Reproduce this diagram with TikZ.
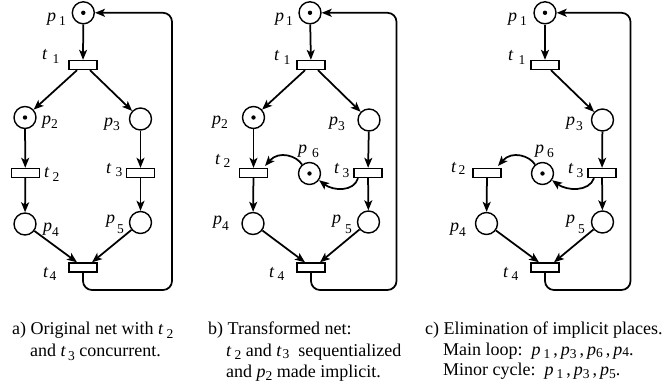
\documentclass[tikz,border=0pt]{standalone}
\usepackage{fontspec}
\setmainfont{Liberation Serif}
\usetikzlibrary{arrows.meta,calc}
\newcommand\lb[4]{\textit{#1}\kern#2\raisebox{-#3}{\fontsize{13.5}{14}\selectfont #4}}
\begin{document}
\begin{tikzpicture}[x=1pt,y=-1pt,
 place/.style={circle,draw,line width=1.4pt,minimum size=22pt,inner sep=0},
 trans/.style={rectangle,draw,line width=1.4pt,minimum width=28pt,minimum height=9pt,inner sep=0},
 arc/.style={-{Stealth[length=10pt,width=8pt,inset=2.5pt]},line width=1.75pt},
 back/.style={arc,rounded corners=9pt},
 txt/.style={inner sep=0,anchor=base west,font=\fontsize{18}{20}\selectfont}]
\useasboundingbox (0,0) rectangle (672,391);

% ---------------- panel a
\node[place] (a-p1) at (83.3,12.8) {};
\node[trans] (a-t1) at (83,65) {};
\node[place] (a-p2) at (25,117.5) {};
\node[place] (a-p3) at (140.5,119) {};
\node[trans] (a-t2) at (25.3,173) {};
\node[trans] (a-t3) at (140.5,173) {};
\node[place] (a-p4) at (25,224) {};
\node[place] (a-p5) at (140.5,222.5) {};
\node[trans] (a-t4) at (83,267.5) {};
\coordinate (a-c) at (172,290);
\fill (a-p1.center) circle (2.2pt);
\fill (a-p2.center) circle (2.2pt);
\draw[arc] (a-p1) -- (a-t1);
\draw[arc] ($(a-t1.south)+(-6,0)$) -- (a-p2);
\draw[arc] ($(a-t1.south)+(7,0)$) -- (a-p3);
\draw[arc] (a-p2) -- (a-t2);
\draw[arc] (a-p3) -- (a-t3);
\draw[arc] (a-t2) -- (a-p4);
\draw[arc] (a-t3) -- (a-p5);
\draw[arc] (a-p4) -- ($(a-t4.north)+(-6,0)$);
\draw[arc] (a-p5) -- ($(a-t4.north)+(9,0)$);
\draw[back] (a-t4.south) |- (a-c) |- (a-p1.east);
\node[txt] at (47,21) {\lb{p}{3pt}{4pt}{1}};
\node[txt] at (42,59) {\lb{t}{5pt}{4pt}{1}};
\node[txt] at (42,124) {\lb{p}{0pt}{4pt}{2}};
\node[txt] at (104,126) {\lb{p}{0pt}{4pt}{3}};
\node[txt] at (44,177) {\lb{t}{3pt}{4pt}{2}};
\node[txt] at (106,173) {\lb{t}{4pt}{3pt}{3}};
\node[txt] at (43,231) {\lb{p}{0pt}{5pt}{4}};
\node[txt] at (106,223) {\lb{p}{2pt}{10pt}{5}};
\node[txt] at (43,277) {\lb{t}{1pt}{3pt}{4}};

% ---------------- panel b
\node[place] (b-p1) at (310,12.8) {};
\node[trans] (b-t1) at (311,65) {};
\node[place] (b-p2) at (253.5,117.5) {};
\node[place] (b-p3) at (369,120) {};
\node[trans] (b-t2) at (253.5,173) {};
\node[place] (b-p6) at (309.5,173.5) {};
\node[trans] (b-t3) at (368,173) {};
\node[place] (b-p4) at (253,223.5) {};
\node[place] (b-p5) at (368.5,222) {};
\node[trans] (b-t4) at (311,267.5) {};
\coordinate (b-c) at (396.5,290);
\coordinate (b-e2) at (265,166);
\fill (b-p1.center) circle (2.2pt);
\fill (b-p2.center) circle (2.2pt);
\fill (b-p6.center) circle (2.2pt);
\draw[arc] (b-p1) -- (b-t1);
\draw[arc] ($(b-t1.south)+(-6,0)$) -- (b-p2);
\draw[arc] ($(b-t1.south)+(7,0)$) -- (b-p3);
\draw[arc] (b-p2) -- (b-t2);
\draw[arc] (b-p3) -- (b-t3);
\draw[arc] (b-t2) -- (b-p4);
\draw[arc] (b-t3) -- (b-p5);
\draw[arc] (b-p4) -- ($(b-t4.north)+(-6,0)$);
\draw[arc] (b-p5) -- ($(b-t4.north)+(9,0)$);
\draw[arc] (b-p6.130) .. controls (297,156) and (279,150) .. (b-e2);
\draw[arc] ($(b-t3.south)+(-10,0)$) .. controls (354,192) and (333,191) .. (b-p6.-35);
\draw[back] (b-t4.south) |- (b-c) |- (b-p1.east);
\node[txt] at (275,21) {\lb{p}{2pt}{4pt}{1}};
\node[txt] at (274,60) {\lb{t}{4pt}{4pt}{1}};
\node[txt] at (212,124) {\lb{p}{0pt}{4pt}{2}};
\node[txt] at (329,125) {\lb{p}{0pt}{5pt}{3}};
\node[txt] at (215,164) {\lb{t}{3pt}{3pt}{2}};
\node[txt] at (298,153) {\lb{p}{5pt}{4pt}{6}};
\node[txt] at (334,173) {\lb{t}{3pt}{4pt}{3}};
\node[txt] at (213,224) {\lb{p}{0pt}{6pt}{4}};
\node[txt] at (332,223) {\lb{p}{4pt}{10pt}{5}};
\node[txt] at (269,277) {\lb{t}{3pt}{3pt}{4}};

% ---------------- panel c
\node[place] (c-p1) at (545,12.8) {};
\node[trans] (c-t1) at (545,65) {};
\node[place] (c-p3) at (602.5,120) {};
\node[trans] (c-t2) at (487,173) {};
\node[place] (c-p6) at (542.5,173.5) {};
\node[trans] (c-t3) at (602,173) {};
\node[place] (c-p4) at (486.5,223.5) {};
\node[place] (c-p5) at (602.5,222) {};
\node[trans] (c-t4) at (545,267.5) {};
\coordinate (c-c) at (630.5,290);
\coordinate (c-e2) at (498,166);
\fill (c-p1.center) circle (2.2pt);
\fill (c-p6.center) circle (2.2pt);
\draw[arc] (c-p1) -- (c-t1);
\draw[arc] ($(c-t1.south)+(6,0)$) -- (c-p3);
\draw[arc] (c-p3) -- (c-t3);
\draw[arc] (c-t2) -- (c-p4);
\draw[arc] (c-t3) -- (c-p5);
\draw[arc] (c-p4) -- ($(c-t4.north)+(-6,0)$);
\draw[arc] (c-p5) -- ($(c-t4.north)+(9,0)$);
\draw[arc] (c-p6.130) .. controls (530,156) and (512,150) .. (c-e2);
\draw[arc] ($(c-t3.south)+(-8,0)$) .. controls (589,192) and (567,191) .. (c-p6.-35);
\draw[back] (c-t4.south) |- (c-c) |- (c-p1.east);
\node[txt] at (508,21) {\lb{p}{3pt}{4pt}{1}};
\node[txt] at (508,60) {\lb{t}{5pt}{4pt}{1}};
\node[txt] at (566,125) {\lb{p}{1pt}{5pt}{3}};
\node[txt] at (451,172) {\lb{t}{2pt}{2pt}{2}};
\node[txt] at (535,153) {\lb{p}{3pt}{4pt}{6}};
\node[txt] at (568,173) {\lb{t}{3pt}{4pt}{3}};
\node[txt] at (450,231) {\lb{p}{0pt}{5pt}{4}};
\node[txt] at (566,223) {\lb{p}{3pt}{10pt}{5}};
\node[txt] at (503,277) {\lb{t}{3pt}{3pt}{4}};

% ---------------- captions
\node[txt] (capa1) at (12,334) {a) Original net with \lb{t}{3pt}{4pt}{2}};
\node[txt] (capa2) at (30,356) {and \lb{t}{2pt}{4pt}{3} concurrent.};
\node[txt] (capb1) at (208,334) {b) Transformed net:};
\node[txt] (capb2) at (226,356) {\lb{t}{3pt}{3pt}{2} and \lb{t}{1pt}{2pt}{3}\ \ sequentialized};
\node[txt] (capb3) at (226,377) {and \lb{p}{0pt}{3pt}{2} made implicit.};
\node[txt] (capc1) at (425,334) {c) Elimination of implicit places.};
\node[txt] (capc2) at (443,355) {Main loop:\ \ \lb{p}{3pt}{3pt}{1}\,,\,\lb{p}{0pt}{3pt}{3}\,,\,\lb{p}{0pt}{2pt}{6}\,,\,\lb{p}{0pt}{1pt}{4}.};
\node[txt] (capc3) at (443,375) {Minor cycle:\ \ \lb{p}{3pt}{3pt}{1}\,,\,\lb{p}{0pt}{3pt}{3}\,,\,\lb{p}{0pt}{3pt}{5}.};
\end{tikzpicture}
\end{document}
